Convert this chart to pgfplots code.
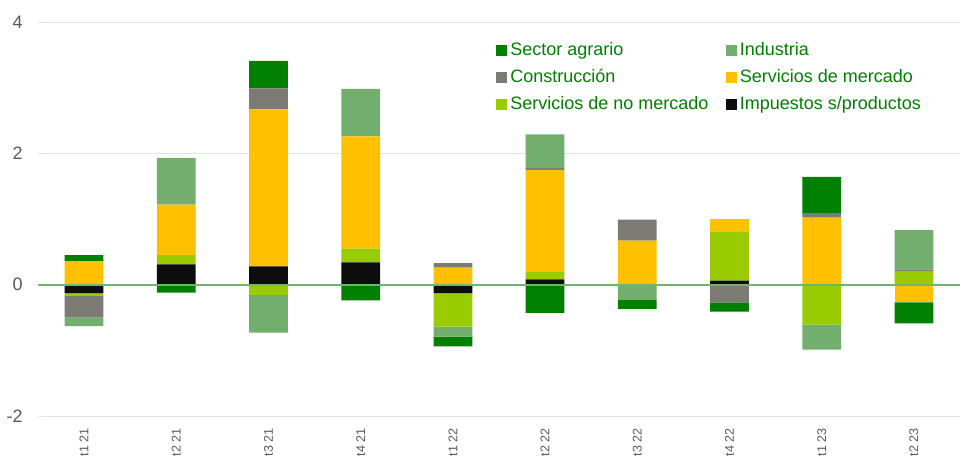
\documentclass[border=0pt]{standalone}
\usepackage{pgfplots}
\pgfplotsset{compat=1.18}
\usepackage{pgfplotstable}
\usepackage{fontspec}
\setmainfont{Liberation Sans}
\definecolor{cagr}{HTML}{008000}
\definecolor{cind}{HTML}{72AE6E}
\definecolor{ccon}{HTML}{7B7B73}
\definecolor{cmer}{HTML}{FFC000}
\definecolor{cnom}{HTML}{99CC00}
\definecolor{cimp}{HTML}{0D0D0D}
\definecolor{cgrid}{HTML}{DCEAD7}
\definecolor{czero}{HTML}{70B46F}
\definecolor{ctick}{HTML}{595959}
\definecolor{cleg}{HTML}{008000}

% positive contributions (stack order: imp, nom, mer, con, ind, agr)
\pgfplotstableread{
x imp nom mer con ind agr
0 0 0 0.36 0 0 0.09
1 0.31 0.14 0.77 0 0.71 0
2 0.28 0 2.39 0.32 0 0.42
3 0.34 0.21 1.71 0 0.72 0
4 0 0 0.26 0.07 0 0
5 0.08 0.11 1.56 0.03 0.51 0
6 0 0 0.67 0.32 0 0
7 0.06 0.75 0.19 0 0 0
8 0 0 1.02 0.07 0 0.55
9 0 0.20 0 0.03 0.60 0
}\pos
% negative contributions
\pgfplotstableread{
x imp nom mer con ind agr
0 -0.13 -0.04 0 -0.33 -0.13 0
1 0 0 0 0 0 -0.12
2 0 -0.16 0 0 -0.57 0
3 0 0 0 0 0 -0.24
4 -0.13 -0.51 0 0 -0.15 -0.15
5 0 0 0 0 0 -0.43
6 0 0 0 0 -0.23 -0.14
7 0 0 0 -0.27 0 -0.14
8 0 -0.61 0 0 -0.38 0
9 0 0 -0.27 0 0 -0.32
}\neg

\pgfplotsset{
  common/.style={
    scale only axis, width=461pt, height=197pt,
    xmin=-0.5, xmax=9.5, ymin=-2, ymax=4,
    ybar stacked, bar width=0.42,
    axis line style={draw=none},
    major tick length=0pt,
  },
}

\begin{document}
\begin{tikzpicture}
\begin{axis}[common,
  font=\fontsize{9pt}{11pt}\selectfont,
  ytick={-2,0,2,4},
  xtick={0,...,9},
  xticklabels={t1 21,t2 21,t3 21,t4 21,t1 22,t2 22,t3 22,t4 22,t1 23,t2 23},
  /pgf/number format/assume math mode=true,
  ymajorgrids, major grid style={cgrid, line width=0.5pt},
  yticklabel style={text=ctick, anchor=east, inner sep=0pt, xshift=-7.5pt},
  xticklabel style={text=ctick, rotate=90, anchor=east, inner sep=0pt,
    font=\fontsize{6.3pt}{7pt}\selectfont},
  xticklabel shift=5.8pt,
  legend columns=2,
  legend cell align=left,
  legend style={draw=none, fill=none, at={(0.490,0.966)}, anchor=north west,
    font=\fontsize{9pt}{11pt}\selectfont, text=cleg,
    nodes={inner sep=0.6pt, text height=7pt, text depth=2pt},
    row sep=3.3pt,
    /tikz/every even column/.append style={column sep=8pt}},
  legend image code/.code={\fill[#1, draw=none] (0pt,-2.75pt) rectangle (5.5pt,2.75pt); \path (6.5pt,0pt);},
]
\addplot[fill=cimp, draw=none, forget plot] table[x=x, y=imp] {\pos};
\addplot[fill=cnom, draw=none, forget plot] table[x=x, y=nom] {\pos};
\addplot[fill=cmer, draw=none, forget plot] table[x=x, y=mer] {\pos};
\addplot[fill=ccon, draw=none, forget plot] table[x=x, y=con] {\pos};
\addplot[fill=cind, draw=none, forget plot] table[x=x, y=ind] {\pos};
\addplot[fill=cagr, draw=none, forget plot] table[x=x, y=agr] {\pos};
\addlegendimage{fill=cagr, draw=none}\addlegendentry{Sector agrario}
\addlegendimage{fill=cind, draw=none}\addlegendentry{Industria}
\addlegendimage{fill=ccon, draw=none}\addlegendentry{Construcción}
\addlegendimage{fill=cmer, draw=none}\addlegendentry{Servicios de mercado}
\addlegendimage{fill=cnom, draw=none}\addlegendentry{Servicios de no mercado}
\addlegendimage{fill=cimp, draw=none}\addlegendentry{Impuestos s/productos}
\end{axis}
\begin{axis}[common,
  xtick=\empty, ytick=\empty,
  extra y ticks={0}, extra y tick labels={},
  extra y tick style={grid=major, major grid style={czero, line width=1pt}},
  axis on top,
]
\addplot[fill=cimp, draw=none] table[x=x, y=imp] {\neg};
\addplot[fill=cnom, draw=none] table[x=x, y=nom] {\neg};
\addplot[fill=cmer, draw=none] table[x=x, y=mer] {\neg};
\addplot[fill=ccon, draw=none] table[x=x, y=con] {\neg};
\addplot[fill=cind, draw=none] table[x=x, y=ind] {\neg};
\addplot[fill=cagr, draw=none] table[x=x, y=agr] {\neg};
\end{axis}
\pgfresetboundingbox
\path[use as bounding box] (-19pt,-20.5pt) rectangle (461pt,208pt);
\end{tikzpicture}
\end{document}
